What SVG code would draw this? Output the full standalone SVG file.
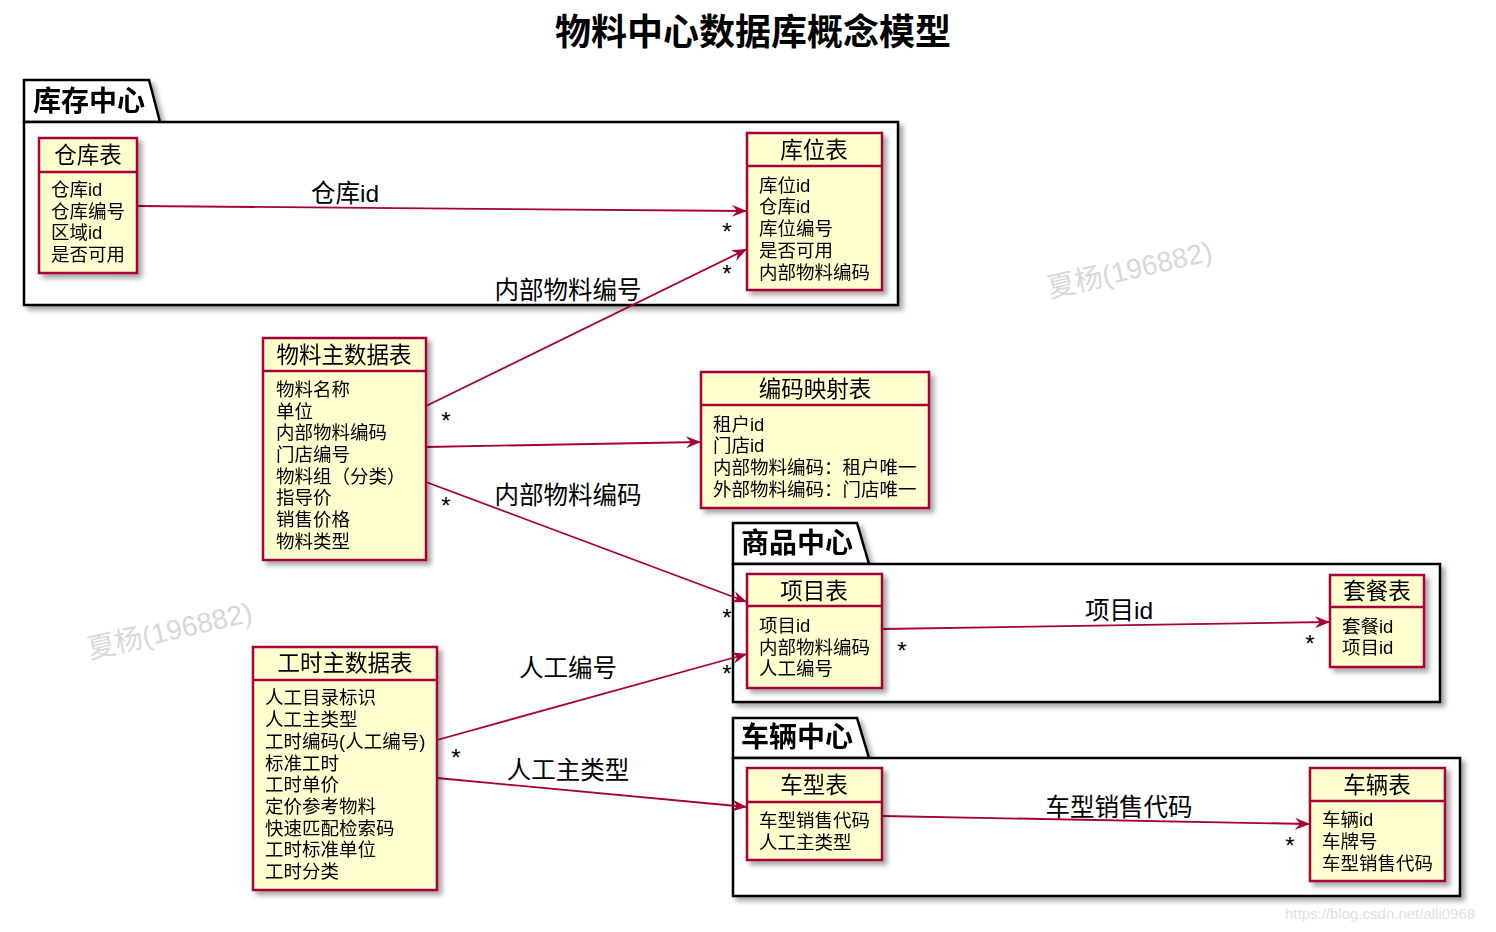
<svg xmlns="http://www.w3.org/2000/svg" width="1496" height="932" viewBox="0 0 1496 932">
<defs>
<filter id="sh" x="-10%" y="-10%" width="130%" height="130%">
<feGaussianBlur in="SourceAlpha" stdDeviation="2.5"/>
<feOffset dx="4" dy="4" result="b"/>
<feComponentTransfer><feFuncA type="linear" slope="0.35"/></feComponentTransfer>
<feMerge><feMergeNode/><feMergeNode in="SourceGraphic"/></feMerge>
</filter>
<marker id="arr" viewBox="0 0 15 12" refX="15" refY="6" markerWidth="15" markerHeight="12" markerUnits="userSpaceOnUse" orient="auto">
<path d="M0,0 L15,6 L0,12 L5,6 Z" fill="#A80036"/>
</marker>
</defs>
<style>
text{font-family:"Liberation Sans","Noto Sans CJK SC",sans-serif;fill:#000}
.title{font-size:36px;font-weight:bold}
.pkg{fill:#fff;stroke:#000;stroke-width:2.5}
.pname{font-size:28px;font-weight:bold}
.box{fill:#FEFECE;stroke:#A80036;stroke-width:2.5}
.sep{stroke:#A80036;stroke-width:2.5}
.cname{font-size:22.5px;text-anchor:middle}
.attr{font-size:18.5px}
.link{stroke:#A80036;stroke-width:1.8;fill:none;marker-end:url(#arr)}
.lbl{font-size:24.5px;text-anchor:middle}
.mul{font-size:24px;text-anchor:middle}
.wm{font-size:28px;fill:#d8d8d8}
</style>
<rect width="1496" height="932" fill="#fff"/>
<text class="title" x="753" y="32" text-anchor="middle" dominant-baseline="central">物料中心数据库概念模型</text>

<g id="pkg-kucun" filter="url(#sh)">
<path class="pkg" d="M24,122 L24,80 L149,80 L160,122 Z"/>
<rect class="pkg" x="24" y="122" width="874" height="183"/>
<text class="pname" x="33" y="101" dominant-baseline="central">库存中心</text>
</g>
<g id="pkg-shangpin" filter="url(#sh)">
<path class="pkg" d="M733,564 L733,523 L857,523 L869,564 Z"/>
<rect class="pkg" x="733" y="564" width="707" height="138"/>
<text class="pname" x="741" y="543" dominant-baseline="central">商品中心</text>
</g>
<g id="pkg-cheliang" filter="url(#sh)">
<path class="pkg" d="M733,758 L733,718 L857,718 L869,758 Z"/>
<rect class="pkg" x="733" y="758" width="727" height="138"/>
<text class="pname" x="741" y="737" dominant-baseline="central">车辆中心</text>
</g>

<g id="watermarks">
<text class="wm" transform="translate(1050,298) rotate(-13)">夏杨(196882)</text>
<text class="wm" transform="translate(90,659) rotate(-13)">夏杨(196882)</text>
<text x="1285" y="919" style="font-size:15px;fill:#e0e0e0">https://blog.csdn.net/alli0968</text>
</g>

<g id="connectors">
<line class="link" x1="137" y1="206" x2="747" y2="211"/>
<text class="lbl" x="345" y="193" dominant-baseline="central">仓库id</text>
<text class="mul" x="727" y="240">*</text>

<line class="link" x1="426" y1="406" x2="747" y2="249"/>
<text class="lbl" x="568" y="290" dominant-baseline="central">内部物料编号</text>
<text class="mul" x="446" y="429">*</text>
<text class="mul" x="727" y="282">*</text>

<line class="link" x1="426" y1="447" x2="701" y2="442"/>

<line class="link" x1="426" y1="482" x2="747" y2="602"/>
<text class="lbl" x="568" y="495" dominant-baseline="central">内部物料编码</text>
<text class="mul" x="446" y="514">*</text>
<text class="mul" x="727" y="626">*</text>

<line class="link" x1="437" y1="740" x2="747" y2="654"/>
<text class="lbl" x="568" y="668" dominant-baseline="central">人工编号</text>
<text class="mul" x="456" y="766">*</text>
<text class="mul" x="727" y="682">*</text>

<line class="link" x1="437" y1="778" x2="747" y2="807"/>
<text class="lbl" x="568" y="770" dominant-baseline="central">人工主类型</text>

<line class="link" x1="882" y1="629" x2="1330" y2="622"/>
<text class="lbl" x="1119" y="610" dominant-baseline="central">项目id</text>
<text class="mul" x="902" y="659">*</text>
<text class="mul" x="1310" y="652">*</text>

<line class="link" x1="882" y1="816" x2="1310" y2="824"/>
<text class="lbl" x="1119" y="807" dominant-baseline="central">车型销售代码</text>
<text class="mul" x="1290" y="854">*</text>
</g>

<g id="cangku" filter="url(#sh)">
<rect class="box" x="39" y="138" width="98" height="135"/>
<line class="sep" x1="39" y1="172" x2="137" y2="172"/>
<text class="cname" x="88" y="155" dominant-baseline="central">仓库表</text>
<text class="attr" dominant-baseline="central"><tspan x="51" y="189">仓库id</tspan><tspan x="51" y="211">仓库编号</tspan><tspan x="51" y="232">区域id</tspan><tspan x="51" y="254">是否可用</tspan></text>
</g>

<g id="kuwei" filter="url(#sh)">
<rect class="box" x="747" y="133" width="135" height="157"/>
<line class="sep" x1="747" y1="166" x2="882" y2="166"/>
<text class="cname" x="814" y="150" dominant-baseline="central">库位表</text>
<text class="attr" dominant-baseline="central"><tspan x="759" y="185">库位id</tspan><tspan x="759" y="206">仓库id</tspan><tspan x="759" y="228">库位编号</tspan><tspan x="759" y="250">是否可用</tspan><tspan x="759" y="272">内部物料编码</tspan></text>
</g>

<g id="wuliao" filter="url(#sh)">
<rect class="box" x="263" y="338" width="163" height="222"/>
<line class="sep" x1="263" y1="371" x2="426" y2="371"/>
<text class="cname" x="344" y="355" dominant-baseline="central">物料主数据表</text>
<text class="attr" dominant-baseline="central"><tspan x="276" y="389">物料名称</tspan><tspan x="276" y="411">单位</tspan><tspan x="276" y="432">内部物料编码</tspan><tspan x="276" y="454">门店编号</tspan><tspan x="276" y="476">物料组（分类）</tspan><tspan x="276" y="497">指导价</tspan><tspan x="276" y="519">销售价格</tspan><tspan x="276" y="541">物料类型</tspan></text>
</g>

<g id="bianma" filter="url(#sh)">
<rect class="box" x="701" y="372" width="228" height="136"/>
<line class="sep" x1="701" y1="405" x2="929" y2="405"/>
<text class="cname" x="815" y="389" dominant-baseline="central">编码映射表</text>
<text class="attr" dominant-baseline="central"><tspan x="713" y="424">租户id</tspan><tspan x="713" y="445">门店id</tspan><tspan x="713" y="467">内部物料编码：租户唯一</tspan><tspan x="713" y="489">外部物料编码：门店唯一</tspan></text>
</g>

<g id="xiangmu" filter="url(#sh)">
<rect class="box" x="747" y="574" width="135" height="114"/>
<line class="sep" x1="747" y1="606" x2="882" y2="606"/>
<text class="cname" x="814" y="591" dominant-baseline="central">项目表</text>
<text class="attr" dominant-baseline="central"><tspan x="759" y="625">项目id</tspan><tspan x="759" y="647">内部物料编码</tspan><tspan x="759" y="668">人工编号</tspan></text>
</g>

<g id="taocan" filter="url(#sh)">
<rect class="box" x="1330" y="575" width="94" height="92"/>
<line class="sep" x1="1330" y1="607" x2="1424" y2="607"/>
<text class="cname" x="1377" y="591" dominant-baseline="central">套餐表</text>
<text class="attr" dominant-baseline="central"><tspan x="1342" y="626">套餐id</tspan><tspan x="1342" y="647">项目id</tspan></text>
</g>

<g id="chexing" filter="url(#sh)">
<rect class="box" x="747" y="768" width="135" height="92"/>
<line class="sep" x1="747" y1="802" x2="882" y2="802"/>
<text class="cname" x="814" y="785" dominant-baseline="central">车型表</text>
<text class="attr" dominant-baseline="central"><tspan x="759" y="820">车型销售代码</tspan><tspan x="759" y="842">人工主类型</tspan></text>
</g>

<g id="cheliang" filter="url(#sh)">
<rect class="box" x="1310" y="768" width="135" height="113"/>
<line class="sep" x1="1310" y1="801" x2="1445" y2="801"/>
<text class="cname" x="1377" y="785" dominant-baseline="central">车辆表</text>
<text class="attr" dominant-baseline="central"><tspan x="1322" y="819">车辆id</tspan><tspan x="1322" y="841">车牌号</tspan><tspan x="1322" y="863">车型销售代码</tspan></text>
</g>

<g id="gongshi" filter="url(#sh)">
<rect class="box" x="253" y="647" width="184" height="243"/>
<line class="sep" x1="253" y1="680" x2="437" y2="680"/>
<text class="cname" x="345" y="663" dominant-baseline="central">工时主数据表</text>
<text class="attr" dominant-baseline="central"><tspan x="265" y="697">人工目录标识</tspan><tspan x="265" y="719">人工主类型</tspan><tspan x="265" y="741">工时编码(人工编号)</tspan><tspan x="265" y="763">标准工时</tspan><tspan x="265" y="784">工时单价</tspan><tspan x="265" y="806">定价参考物料</tspan><tspan x="265" y="828">快速匹配检索码</tspan><tspan x="265" y="849">工时标准单位</tspan><tspan x="265" y="871">工时分类</tspan></text>
</g>
</svg>
